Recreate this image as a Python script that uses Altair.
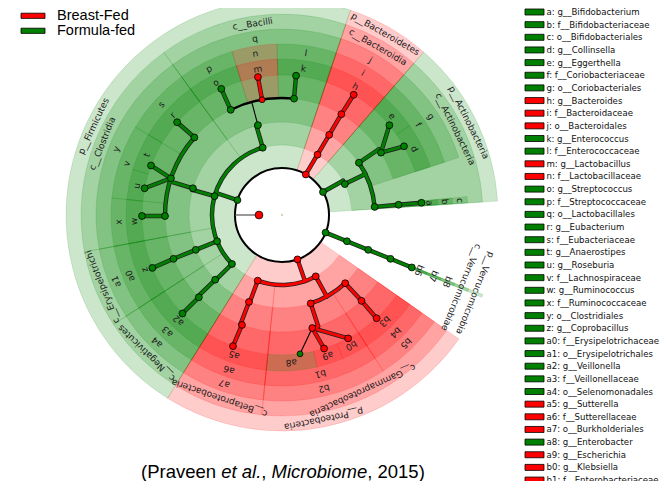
import altair as alt
import pandas as pd

# ---------------- data ----------------
legend_codes = ["a", "b", "c", "d", "e", "f", "g", "h", "i", "j", "k", "l", "m",
                "n", "o", "p", "q", "r", "s", "t", "u", "v", "w", "x", "y", "z",
                "a0", "a1", "a2", "a3", "a4", "a5", "a6", "a7", "a8", "a9", "b0", "b1"]
legend_names = ["g__Bifidobacterium", "f__Bifidobacteriaceae", "o__Bifidobacteriales",
                "g__Collinsella", "g__Eggerthella", "f__Coriobacteriaceae",
                "o__Coriobacteriales", "g__Bacteroides", "f__Bacteroidaceae",
                "o__Bacteroidales", "g__Enterococcus", "f__Enterococcaceae",
                "g__Lactobacillus", "f__Lactobacillaceae", "g__Streptococcus",
                "f__Streptococcaceae", "o__Lactobacillales", "g__Eubacterium",
                "f__Eubacteriaceae", "g__Anaerostipes", "g__Roseburia",
                "f__Lachnospiraceae", "g__Ruminococcus", "f__Ruminococcaceae",
                "o__Clostridiales", "g__Coprobacillus", "f__Erysipelotrichaceae",
                "o__Erysipelotrichales", "g__Veillonella", "f__Veillonellaceae",
                "o__Selenomonadales", "g__Sutterella", "f__Sutterellaceae",
                "o__Burkholderiales", "g__Enterobacter", "g__Escherichia",
                "g__Klebsiella", "f__Enterobacteriaceae"]
legend_groups = ["FF", "FF", "FF", "FF", "FF", "FF", "FF", "BF", "BF", "BF", "FF", "FF", "BF",
                 "BF", "FF", "FF", "FF", "FF", "FF", "FF", "FF", "FF", "FF", "FF", "FF", "FF",
                 "FF", "FF", "FF", "FF", "FF", "BF", "BF", "BF", "FF", "BF", "BF", "BF"]

group_keys = ["BF", "FF"]
group_names = ["Breast-Fed", "Formula-fed"]

# cladogram: id, parent, level, node angle, clade start / end angle (deg, clockwise from top), group, label
tax_id = ["P_Bac", "P_Act", "P_Ver", "P_Pro", "P_Fir",
          "C_Bac", "C_Act", "C_Ver", "C_Gam", "C_Bet", "C_Neg", "C_Ery", "C_Clo", "C_Bci",
          "j", "g", "c", "b8", "b5", "b2", "a7", "a4", "a1", "y", "q",
          "i", "f", "b", "b7", "b4", "b1", "a6", "a3", "a0", "x", "v", "s", "p", "n", "l",
          "h", "e", "d", "a", "b6", "b3", "b0", "a9", "a8", "a5", "a2", "z", "w", "u", "t",
          "r", "o", "m", "k"]
tax_parent = ["root", "root", "root", "root", "root",
              "P_Bac", "P_Act", "P_Ver", "P_Pro", "P_Pro", "P_Fir", "P_Fir", "P_Fir", "P_Fir",
              "C_Bac", "C_Act", "C_Act", "C_Ver", "C_Gam", "C_Gam", "C_Bet", "C_Neg", "C_Ery",
              "C_Clo", "C_Bci",
              "j", "g", "c", "b8", "b5", "b2", "a7", "a4", "a1", "y", "y", "y", "q", "q", "q",
              "i", "f", "f", "b", "b7", "b4", "b1", "b1", "b1", "a6", "a3", "a0", "x", "v", "v",
              "s", "p", "n", "l"]
tax_level = [1] * 5 + [2] * 9 + [3] * 11 + [4] * 15 + [5] * 19
tax_angle = [30.4, 60.7, 112.0, 160.8, 288.5,
             30.5, 63.8, 112.0, 151.2, 200.3, 225.6, 248.0, 285.6, 344.0,
             30.5, 55.8, 85.0, 112.0, 137.2, 162.0, 200.8, 225.9, 248.0, 286.7, 345.0,
             30.5, 57.8, 85.0, 112.0, 137.2, 165.0, 200.0, 225.3, 248.0, 269.5, 288.3, 311.5,
             334.0, 350.2, 365.9,
             30.8, 50.1, 60.6, 85.0, 112.0, 137.5, 151.8, 162.5, 172.6, 200.5, 225.3, 247.8,
             269.6, 281.0, 290.7, 311.5, 334.3, 350.1, 365.75]
tax_start = [18.5, 41.0, 111.6, 125.0, 212.0,
             18.5, 41.0, 111.6, 125.0, 185.8, 212.0, 237.0, 259.4, 324.0,
             18.5, 41.0, 84.3, 111.6, 125.0, 147.0, 185.8, 212.0, 237.0, 259.4, 324.0,
             18.5, 41.0, 84.3, 111.6, 125.0, 147.0, 185.8, 212.0, 237.0, 259.4, 275.7, 301.0,
             324.0, 343.0, 358.3,
             18.5, 41.0, 55.0, 84.3, 111.6, 125.0, 147.0, 157.0, 167.0, 185.8, 212.0, 237.0,
             259.4, 275.7, 287.0, 301.0, 324.0, 343.0, 358.3]
tax_end = [41.0, 86.3, 112.4, 212.0, 378.5,
           41.0, 86.3, 112.4, 185.8, 212.0, 237.0, 259.4, 324.0, 378.5,
           41.0, 72.0, 86.3, 112.4, 147.0, 185.8, 212.0, 237.0, 259.4, 324.0, 378.5,
           41.0, 72.0, 86.3, 112.4, 147.0, 185.8, 212.0, 237.0, 259.4, 275.7, 301.0, 324.0,
           343.0, 358.3, 378.5,
           41.0, 55.0, 72.0, 86.3, 112.4, 147.0, 157.0, 167.0, 185.8, 212.0, 237.0, 259.4,
           275.7, 287.0, 301.0, 324.0, 343.0, 358.3, 378.5]
tax_group = ["BF", "FF", "FF", "BF", "FF",
             "BF", "FF", "FF", "BF", "BF", "FF", "FF", "FF", "FF",
             "BF", "FF", "FF", "FF", "BF", "BF", "BF", "FF", "FF", "FF", "FF",
             "BF", "FF", "FF", "FF", "BF", "BF", "BF", "FF", "FF", "FF", "FF", "FF", "FF", "BF", "FF",
             "BF", "FF", "FF", "FF", "FF", "BF", "BF", "BF", "FF", "BF", "FF", "FF", "FF", "FF",
             "FF", "FF", "FF", "BF", "FF"]
tax_label = ["p__Bacteroidetes", "p__Actinobacteria", "p__Verrucomicrobia", "p__Proteobacteria",
             "p__Firmicutes",
             "c__Bacteroidia", "c__Actinobacteria", "c__Verrucomicrobiae",
             "c__Gammaproteobacteria", "c__Betaproteobacteria", "c__Negativicutes",
             "c__Erysipelotrichi", "c__Clostridia", "c__Bacilli"] + tax_id[14:]

caption_parts = ["(Praveen ", "et al.", ", ", "Microbiome", ", 2015)"]
caption_italic = [False, True, False, True, False]

# ---------------- layout / style constants ----------------
RED, GREEN = "#ff0000", "#008000"
ROOT_R = 23
NODE_R = {1: 47, 2: 70, 3: 93, 4: 117, 5: 140}
OUTER_R = {1: 216, 2: 201, 3: 186, 4: 171, 5: 156}
LABEL_R = {1: 208.5, 2: 193.5, 3: 178.5, 4: 163.5, 5: 148}
W, H = 654, 473
CX, CY = 274, 207          # circle centre inside the view (pixels)
xs = alt.Scale(domain=[-CX, W - CX], range=[0, W], nice=False, zero=False)
ys = alt.Scale(domain=[CY - H, CY], range=[H, 0], nice=False, zero=False)
ts = alt.Scale(domain=[0, 360], range=[0, 6.283185307], zero=False, nice=False)
rs = alt.Scale(type="linear", domain=[0, 300], range=[0, 300], zero=True, nice=False)
gscale = alt.Scale(domain=["BF", "FF", "K"], range=[RED, GREEN, "black"])

tax = pd.DataFrame({"id": tax_id, "parent": tax_parent, "level": tax_level,
                    "angle": tax_angle, "start": tax_start, "end": tax_end,
                    "group": tax_group, "label": tax_label})
tax["r_node"] = tax["level"].map(NODE_R)
tax["r_in"] = tax["level"].map(NODE_R)
tax["r_out"] = tax["level"].map(OUTER_R)
tax["r_lab"] = tax["level"].map(LABEL_R)
tax["mid"] = (tax["start"] + tax["end"]) / 2
tax["rot"] = tax["mid"] % 360
info = {row.id: row for row in tax.itertuples()}

# edges derived from the tree
segs, arcs = [], []
for pid, kids in tax.groupby("parent", sort=False):
    if pid == "root":
        continue
    p = info[pid]
    if kids["level"].iloc[0] == 5:
        for k in kids.itertuples():
            col = k.group if k.group == p.group else "K"
            segs.append(dict(r1=p.r_node, t1=p.angle, r2=k.r_node, t2=k.angle, col=col))
    else:
        col = p.group if set(kids["group"]) == {p.group} else "K"
        kr = kids["r_node"].iloc[0]
        segs.append(dict(r1=p.r_node, t1=p.angle, r2=kr, t2=p.angle, col=col))
        angs = list(kids["angle"]) + [p.angle]
        arcs.append(dict(r=kr, t1=min(angs), t2=max(angs), col=col))
segs.append(dict(r1=ROOT_R, t1=270, r2=NODE_R[1], t2=270, col="R"))
segs = pd.DataFrame(segs)
arcs = pd.DataFrame(arcs)

nodes = tax[["id", "r_node", "angle", "group", "parent"]].copy()
nodes["kind"] = ["minor" if (pp in info and info[pp].group != g) else "main"
                 for pp, g in zip(nodes["parent"], nodes["group"])]
nodes = pd.concat([nodes, pd.DataFrame([dict(id="root", r_node=ROOT_R, angle=270,
                                             group="BF", parent="", kind="root")])])

XY0 = dict(x=alt.XDatum(0, scale=xs, axis=None), y=alt.YDatum(0, scale=ys, axis=None))


def pol(chart, r, t, xn="x", yn="y"):
    return chart.transform_calculate(**{
        xn: f"datum.{r} * sin(datum.{t} * PI / 180)",
        yn: f"datum.{r} * cos(datum.{t} * PI / 180)"})


# clade shading
wedges = alt.Chart(tax.sort_values("level")).mark_arc(
    fillOpacity=0.2, strokeWidth=0.6, strokeOpacity=0.22).encode(
    theta=alt.Theta("start:Q", scale=ts, stack=False),
    theta2="end:Q",
    radius=alt.Radius("r_out:Q", scale=rs),
    radius2="r_in:Q",
    fill=alt.Fill("group:N", scale=gscale, legend=None),
    stroke=alt.Stroke("group:N", scale=gscale, legend=None),
    **XY0)

circle = alt.Chart(pd.DataFrame({"r": [NODE_R[1]], "t1": [0], "t2": [360]})).mark_arc(
    filled=False, stroke="black", strokeWidth=2).encode(
    theta=alt.Theta("t1:Q", scale=ts, stack=False), theta2="t2:Q",
    radius=alt.Radius("r:Q", scale=rs), radius2="r:Q", **XY0)


def arc_layer(flt, **mk):
    return alt.Chart(arcs).transform_filter(flt).mark_arc(
        filled=False, strokeJoin="round", **mk).encode(
        theta=alt.Theta("t1:Q", scale=ts, stack=False), theta2="t2:Q",
        radius=alt.Radius("r:Q", scale=rs), radius2="r:Q", **XY0)


arc_out = arc_layer("datum.col != 'K'", stroke="#222222", strokeWidth=4.4)
arc_col = arc_layer("datum.col != 'K'", strokeWidth=2.8).encode(
    stroke=alt.Stroke("col:N", scale=gscale, legend=None))
arc_blk = arc_layer("datum.col == 'K'", stroke="black", strokeWidth=2.4)


def seg_layer(flt, **mk):
    c = pol(pol(alt.Chart(segs).transform_filter(flt), "r1", "t1", "x1", "y1"),
            "r2", "t2", "x2", "y2")
    return c.mark_rule(**mk).encode(
        x=alt.X("x1:Q", scale=xs, axis=None), y=alt.Y("y1:Q", scale=ys, axis=None),
        x2="x2:Q", y2="y2:Q")


seg_out = seg_layer("datum.col == 'BF' || datum.col == 'FF'", color="#222222",
                    strokeWidth=4.4, strokeCap="round")
seg_col = seg_layer("datum.col == 'BF' || datum.col == 'FF'", strokeWidth=2.8,
                    strokeCap="round").encode(color=alt.Color("col:N", scale=gscale, legend=None))
seg_blk = seg_layer("datum.col == 'K'", color="black", strokeWidth=1.1)
seg_root = seg_layer("datum.col == 'R'", color="#555555", strokeWidth=1.2)

node_pts = pol(alt.Chart(nodes), "r_node", "angle").mark_point(
    filled=True, shape="circle", stroke="black", strokeWidth=0.8, opacity=1).encode(
    x=alt.X("x:Q", scale=xs, axis=None), y=alt.Y("y:Q", scale=ys, axis=None),
    fill=alt.Fill("group:N", scale=gscale, legend=None),
    size=alt.Size("kind:N", scale=alt.Scale(domain=["root", "main", "minor"],
                                            range=[60, 34, 14]), legend=None))

centre = alt.Chart(pd.DataFrame({"r": [0.0], "t": [0.0]})).mark_point(
    filled=True, shape="circle", color="#c8c89a", size=6).encode(
    x=alt.X("r:Q", scale=xs, axis=None), y=alt.Y("t:Q", scale=ys, axis=None))

labels = pol(alt.Chart(tax), "r_lab", "mid").mark_text(
    font="DejaVu Sans", fontSize=9, color="#1a1a1a", align="center",
    baseline="middle").encode(
    x=alt.X("x:Q", scale=xs, axis=None), y=alt.Y("y:Q", scale=ys, axis=None),
    text="label:N", angle=alt.Angle("rot:Q", scale=None))

# right-hand key
key = pd.DataFrame({"idx": range(len(legend_codes)),
                    "txt": [f"{c}: {n}" for c, n in zip(legend_codes, legend_names)],
                    "group": legend_groups})
KEY_Y0, KEY_STEP = CY - 4, 12.65
key_base = alt.Chart(key).transform_calculate(
    yc=f"{KEY_Y0} - datum.idx * {KEY_STEP}",
    ya="datum.yc + 3", yb="datum.yc - 3",
    xa=f"{517 - CX}", xb=f"{536 - CX}", xt=f"{538.5 - CX}")
key_box = key_base.mark_rect(stroke="black", strokeWidth=0.8).encode(
    x=alt.X("xa:Q", scale=xs, axis=None), x2="xb:Q",
    y=alt.Y("ya:Q", scale=ys, axis=None), y2="yb:Q",
    fill=alt.Fill("group:N", scale=gscale, legend=None))
key_txt = key_base.mark_text(font="DejaVu Sans", fontSize=8.6, align="left",
                             baseline="middle", color="#111111").encode(
    x=alt.X("xt:Q", scale=xs, axis=None), y=alt.Y("yc:Q", scale=ys, axis=None),
    text="txt:N")

# top-left group legend
grp = pd.DataFrame({"i": [0, 1], "group": group_keys, "name": group_names})
grp_base = alt.Chart(grp).transform_calculate(
    yc=f"{CY - 7.8} - datum.i * 15", ya="datum.yc + 2.6", yb="datum.yc - 2.6",
    xa=f"{13 - CX}", xb=f"{37 - CX}", xt=f"{49 - CX}")
grp_box = grp_base.mark_rect(stroke="black", strokeWidth=0.8).encode(
    x=alt.X("xa:Q", scale=xs, axis=None), x2="xb:Q",
    y=alt.Y("ya:Q", scale=ys, axis=None), y2="yb:Q",
    fill=alt.Fill("group:N", scale=gscale, legend=None))
grp_txt = grp_base.mark_text(font="Liberation Sans", fontSize=14.5, align="left",
                             baseline="middle", color="black").encode(
    x=alt.X("xt:Q", scale=xs, axis=None), y=alt.Y("yc:Q", scale=ys, axis=None),
    text="name:N")

# caption
cap_x = [133, 213.2, 253.3, 263.6, 359.2]
cap = pd.DataFrame({"t": caption_parts, "it": caption_italic, "px": cap_x})


def cap_layer(italic):
    return alt.Chart(cap).transform_filter(
        "datum.it" if italic else "!datum.it").transform_calculate(
        xx=f"datum.px - {CX}", yy=f"{CY - 470}").mark_text(
        font="Liberation Sans", fontSize=18.5, align="left", baseline="alphabetic",
        color="black", fontStyle="italic" if italic else "normal").encode(
        x=alt.X("xx:Q", scale=xs, axis=None), y=alt.Y("yy:Q", scale=ys, axis=None),
        text="t:N")


chart = alt.layer(
    wedges, circle, seg_out, arc_out, seg_col, arc_col, seg_blk, arc_blk, seg_root,
    node_pts, centre, labels, key_box, key_txt, grp_box, grp_txt,
    cap_layer(False), cap_layer(True)
).properties(width=W, height=H, padding=0, autosize="none").configure_view(stroke=None)

chart.save("out.html", embed_options={"renderer": "svg", "actions": False})
